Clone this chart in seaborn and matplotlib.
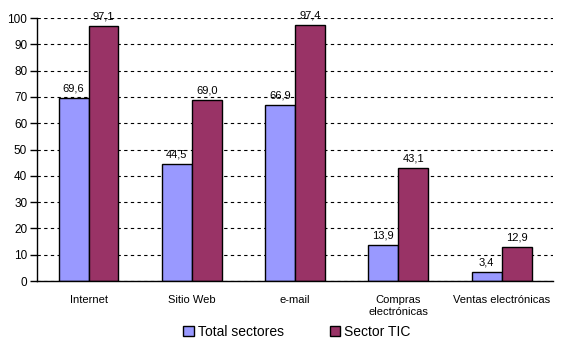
import pandas as pd
import matplotlib
matplotlib.use('Agg')
import matplotlib.pyplot as plt
import seaborn as sns
from matplotlib.patches import Patch

categories = ['Internet', 'Sitio Web', 'e-mail', 'Compras\nelectrónicas', 'Ventas electrónicas']
total_sectores = [69.6, 44.5, 66.9, 13.9, 3.4]
sector_tic = [97.1, 69.0, 97.4, 43.1, 12.9]
series = ['Total sectores', 'Sector TIC']
colors = ['#9999FF', '#993366']

df = pd.DataFrame({
    'categoria': categories * 2,
    'valor': total_sectores + sector_tic,
    'serie': [series[0]] * len(categories) + [series[1]] * len(categories),
})

sns.set_style('white')
plt.rcParams['font.family'] = ['Liberation Sans', 'DejaVu Sans']
plt.rcParams['text.color'] = 'black'
plt.rcParams['xtick.color'] = 'black'
plt.rcParams['ytick.color'] = 'black'

fig = plt.figure(figsize=(5.68, 3.54), dpi=100)
ax = fig.add_axes([0.065, 0.206, 0.909, 0.743])

sns.barplot(data=df, x='categoria', y='valor', hue='serie', palette=colors, saturation=1,
            width=0.58, gap=0, edgecolor='black', linewidth=1, ax=ax, legend=False)

for c in ax.containers:
    ax.bar_label(c, fmt=lambda v: f'{v:.1f}'.replace('.', ','), padding=3, fontsize=8, color='black')

ax.set_ylim(0, 100)
ax.set_xlim(-0.5, len(categories) - 0.5)
ax.set_yticks(range(0, 101, 10))
ax.yaxis.grid(True, linestyle=(0, (3, 3)), color='black', linewidth=0.8)
ax.set_axisbelow(True)
ax.set_xlabel('')
ax.set_ylabel('')

ax.spines['top'].set_visible(False)
ax.spines['right'].set_visible(False)
for s in ['left', 'bottom']:
    ax.spines[s].set_color('black')
    ax.spines[s].set_linewidth(1)

ax.set_xticks([i + 0.5 for i in range(-1, len(categories))], minor=False)
ax.set_xticklabels([])
ax.set_xticks(range(len(categories)), minor=True)
ax.set_xticklabels(categories, minor=True, fontsize=8)
ax.tick_params(axis='x', which='major', length=4, width=1, direction='out')
ax.tick_params(axis='x', which='minor', length=0, pad=10)
ax.tick_params(axis='y', length=5, width=1, direction='out', labelsize=8.5, left=True, pad=2)

handles = [Patch(facecolor=colors[i], edgecolor='black', label=series[i]) for i in range(2)]
fig.legend(handles=handles, loc='center', bbox_to_anchor=(0.523, 0.062), ncol=2, frameon=False,
           fontsize=10, handlelength=0.75, handleheight=0.75, handletextpad=0.3, columnspacing=3.3)

plt.savefig('out.png', dpi=100)
